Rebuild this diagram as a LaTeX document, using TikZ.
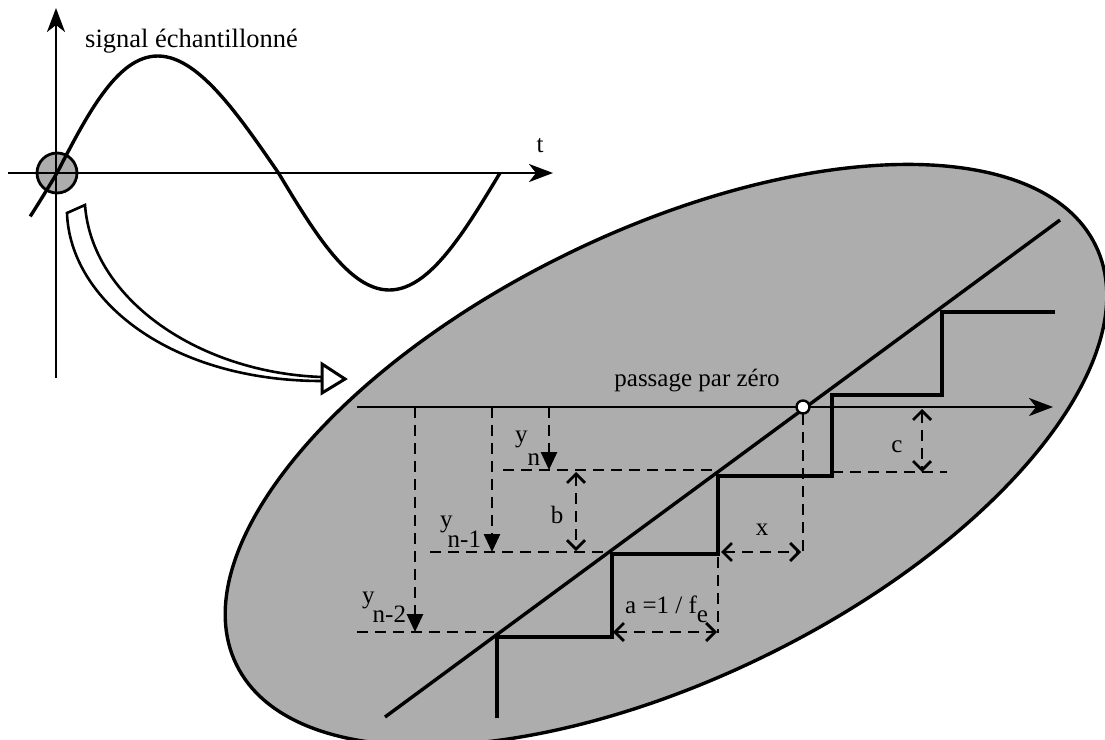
\documentclass[tikz,border=0pt]{standalone}
\usepackage{fontspec}
\setmainfont{Liberation Serif}
\usetikzlibrary{arrows.meta}
\begin{document}
\begin{tikzpicture}[x=1pt,y=-1pt,
  lbl/.style={font=\fontsize{25}{30}\selectfont, inner sep=0pt},
  axis/.style={line width=2.8pt, -{Stealth[length=24pt,width=18pt,inset=7pt]}},
  dsh/.style={line width=2.8pt, dash pattern=on 11pt off 7pt},
  dim/.style={dsh, {Straight Barb[length=9pt,width=18pt]}-{Straight Barb[length=9pt,width=18pt]}},
  drop/.style={dsh, -{Triangle[length=18pt,width=16pt]}},
  stair/.style={line width=4.6pt, line join=miter},
  halftone/.style={fill=black!32}
]
\useasboundingbox (0,0) rectangle (1105,739);
\clip (0,0) rectangle (1105,739);

% ---------- zoomed ellipse ----------
\draw[halftone, line width=3.4pt, rotate around={26:(666,455)}] (666,455) ellipse [x radius=478pt, y radius=224pt];

% ---------- top-left sampled signal ----------
\node[circle, draw, halftone, line width=2.8pt, minimum size=40pt, inner sep=0pt] (zc) at (57,173) {};
\coordinate (hx0) at (8,173);  \coordinate (hx1) at (553,173);
\coordinate (vy0) at (56,378); \coordinate (vy1) at (56,8);
\draw[axis] (hx0) -- (hx1);
\draw[axis] (vy0) -- (vy1);
\draw[line width=3.4pt] plot[domain=-0.38:6.2832, samples=120, variable=\t, smooth]
  ({57+70.5*\t-5*(sin(\t r)+abs(sin(\t r)))}, {173-117*sin(\t r)});
\node[lbl, font=\fontsize{26.5}{30}\selectfont, anchor=base west] (title) at (85,47) {signal échantillonné};
\node[lbl, anchor=base] (tlab) at (540,152) {t};

% hollow curved arrow
\coordinate (b1) at (67,213); \coordinate (b2) at (322,381);
\coordinate (b3) at (322,377); \coordinate (b4) at (85,205);
\draw[line width=2.6pt, fill=white, line join=miter]
  (b1) .. controls (70,300) and (170,381) .. (b2) -- (b3)
  .. controls (200,373) and (92,300) .. (b4) -- cycle;
\coordinate (h1) at (322,364); \coordinate (h2) at (345,379); \coordinate (h3) at (322,393);
\draw[line width=3pt, fill=white, line join=miter] (h1) -- (h2) -- (h3) -- cycle;

% ---------- inside the ellipse ----------
\coordinate (A0) at (357,407); \coordinate (A1) at (1053,407);
\draw[axis] (A0) -- (A1);
\node[lbl, anchor=base] (pz) at (697,386) {passage par zéro};

% sample drops
\coordinate (d1a) at (415,407); \coordinate (d1b) at (415,632);
\coordinate (d2a) at (492,407); \coordinate (d2b) at (492,552);
\coordinate (d3a) at (549,407); \coordinate (d3b) at (549,470);
\draw[drop] (d1a) -- (d1b);
\draw[drop] (d2a) -- (d2b);
\draw[drop] (d3a) -- (d3b);

% horizontal dashed levels
\coordinate (l1a) at (357,632); \coordinate (l1b) at (497,632);
\coordinate (l2a) at (430,552); \coordinate (l2b) at (612,552);
\coordinate (l3a) at (503,470); \coordinate (l3b) at (718,470);
\coordinate (l4a) at (832,472); \coordinate (l4b) at (947,472);
\draw[dsh] (l1a) -- (l1b);
\draw[dsh] (l2a) -- (l2b);
\draw[dsh] (l3a) -- (l3b);
\draw[dsh] (l4a) -- (l4b);
\coordinate (v1a) at (803,414); \coordinate (v1b) at (803,552);
\coordinate (v2a) at (718,557); \coordinate (v2b) at (718,633);
\draw[dsh] (v1a) -- (v1b);
\draw[dsh] (v2a) -- (v2b);

% dimension arrows
\coordinate (ba) at (576,472); \coordinate (bb) at (576,551);
\coordinate (xa) at (721,552); \coordinate (xb) at (801,552);
\coordinate (ca) at (922,409); \coordinate (cb) at (922,472);
\coordinate (aa) at (613,632); \coordinate (ab) at (717,632);
\draw[dim] (ba) -- (bb);
\draw[dim] (xa) -- (xb);
\draw[dim] (ca) -- (cb);
\draw[dim] (aa) -- (ab);

% staircase and ramp
\draw[stair] (497,718) -- (497,637) -- (612,637) -- (612,554) -- (718,554) -- (718,476)
  -- (832,476) -- (832,395) -- (942,395) -- (942,312) -- (1055,312);
\coordinate (r0) at (385,717); \coordinate (r1) at (1060,220);
\draw[line width=3.4pt] (r0) -- (r1);
\node[circle, draw, fill=white, line width=2.4pt, minimum size=13pt, inner sep=0pt] (zero) at (803,407) {};

% labels
\node[lbl, anchor=base west] (yn)  at (515,442) {y\raisebox{-23pt}{n}};
\node[lbl, anchor=base west] (yn1) at (440,527) {y\raisebox{-20pt}{\kern-5pt n-1}};
\node[lbl, anchor=base west] (yn2) at (362,603) {y\raisebox{-19pt}{\kern-2pt n-2}};
\node[lbl, anchor=base] (blab) at (557,523) {b};
\node[lbl, anchor=base] (clab) at (897,452) {c};
\node[lbl, anchor=base] (xlab) at (762,535) {x};
\node[lbl, anchor=base west] (alab) at (625,613) {a =1 / f\raisebox{-9pt}{e}};
\end{tikzpicture}
\end{document}
